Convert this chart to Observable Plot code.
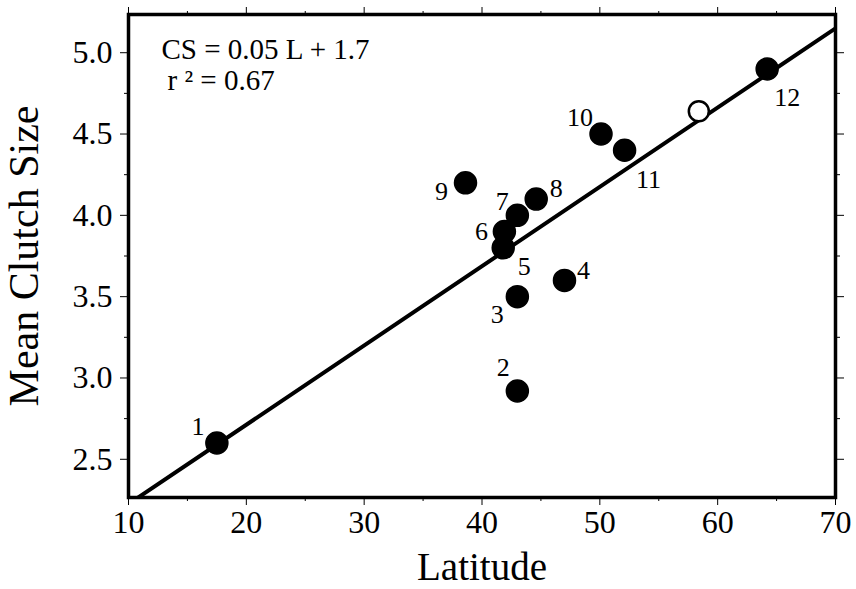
<!DOCTYPE html>
<html>
<head>
<meta charset="utf-8">
<script src="https://cdn.jsdelivr.net/npm/d3@7"></script>
<script src="https://cdn.jsdelivr.net/npm/@observablehq/plot@0.6"></script>
<style>
  html, body { margin: 0; padding: 0; background: #fff; }
  #chart svg { display: block; }
</style>
</head>
<body>
<div id="chart"></div>
<script>
// Data
const ids      = ["1", "2", "3", "4", "5", "6", "7", "8", "9", "10", "11", "12"];
const latitude = [17.5, 43.0, 43.0, 47.0, 41.8, 41.9, 43.0, 44.6, 38.6, 50.1, 52.1, 64.2];
const clutch   = [2.6, 2.92, 3.5, 3.6, 3.8, 3.9, 4.0, 4.1, 4.2, 4.5, 4.4, 4.9];
const openLat = [58.4];
const openCS  = [4.64];
// regression line endpoints (CS = 0.05 L + 1.7)
const fitLat = [10, 70];
const fitCS  = [2.225, 5.15];
const xTicks = [10, 20, 30, 40, 50, 60, 70];
const xMinor = [15, 25, 35, 45, 55, 65];
const yTicks = [2.5, 3.0, 3.5, 4.0, 4.5, 5.0];
const yMinor = [2.75, 3.25, 3.75, 4.25, 4.75];

const points = ids.map((id, i) => ({id, lat: latitude[i], cs: clutch[i]}));
const openPts = openLat.map((l, i) => ({lat: l, cs: openCS[i]}));
const fit = fitLat.map((l, i) => ({lat: l, cs: fitCS[i]}));

// label offsets (px) relative to each point
const labelOffsets = {
  "1": [-19, -16], "2": [-14, -23], "3": [-20, 18], "4": [19, -10],
  "5": [21, 19], "6": [-23, 0], "7": [-15, -14], "8": [20, -10],
  "9": [-24, 9], "10": [-21, -16], "11": [24, 29], "12": [20, 29]
};

const font = "'Liberation Serif', 'DejaVu Serif', serif";

const labelMarks = points.map(p => Plot.text([p], {
  x: "lat", y: "cs", text: "id",
  dx: labelOffsets[p.id][0], dy: labelOffsets[p.id][1],
  fontSize: 26, fill: "black"
}));

const chart = Plot.plot({
  width: 856,
  height: 589,
  marginLeft: 128,
  marginRight: 21,
  marginTop: 14,
  marginBottom: 92,
  style: {fontFamily: font, background: "white", color: "black"},
  x: {domain: [10, 70], label: null},
  y: {domain: [2.265, 5.235], label: null},
  marks: [
    Plot.line(fit, {x: "lat", y: "cs", stroke: "black", strokeWidth: 4, clip: true}),
    Plot.dot(points, {x: "lat", y: "cs", r: 11, fill: "black", stroke: "black"}),
    Plot.dot(openPts, {x: "lat", y: "cs", r: 10, fill: "white", stroke: "black", strokeWidth: 2.5}),
    ...labelMarks,
    Plot.text(["CS = 0.05 L + 1.7"], {frameAnchor: "top-left", dx: 33, dy: 24, fontSize: 29, textAnchor: "start", lineAnchor: "top"}),
    Plot.text(["r ² = 0.67"], {frameAnchor: "top-left", dx: 39, dy: 55, fontSize: 29, textAnchor: "start", lineAnchor: "top"}),
    Plot.frame({stroke: "black", strokeWidth: 3.5}),
    Plot.axisX({ticks: xTicks, tickSize: 8, tickWidth: 2.5, tickPadding: 5, fontSize: 32, tickFormat: d => d}),
    Plot.axisX({ticks: xMinor, tickSize: 4, tickWidth: 2, text: null}),
    Plot.axisX({anchor: "top", ticks: xTicks, tickSize: 8, tickWidth: 2.5, text: null}),
    Plot.axisX({anchor: "top", ticks: xMinor, tickSize: 4, tickWidth: 2, text: null}),
    Plot.axisY({ticks: yTicks, tickSize: 8, tickWidth: 2.5, tickPadding: 8, fontSize: 32, tickFormat: d3.format(".1f")}),
    Plot.axisY({ticks: yMinor, tickSize: 4, tickWidth: 2, text: null}),
    Plot.axisY({anchor: "right", ticks: yTicks, tickSize: 8, tickWidth: 2.5, text: null}),
    Plot.axisY({anchor: "right", ticks: yMinor, tickSize: 4, tickWidth: 2, text: null}),
    Plot.text(["Latitude"], {frameAnchor: "bottom", dy: 70, fontSize: 39, lineAnchor: "middle", textAnchor: "middle"}),
    Plot.text(["Mean Clutch Size"], {frameAnchor: "left", dx: -104, rotate: -90, fontSize: 42, textAnchor: "middle", lineAnchor: "middle"})
  ]
});
document.getElementById("chart").appendChild(chart);
</script>
</body>
</html>
